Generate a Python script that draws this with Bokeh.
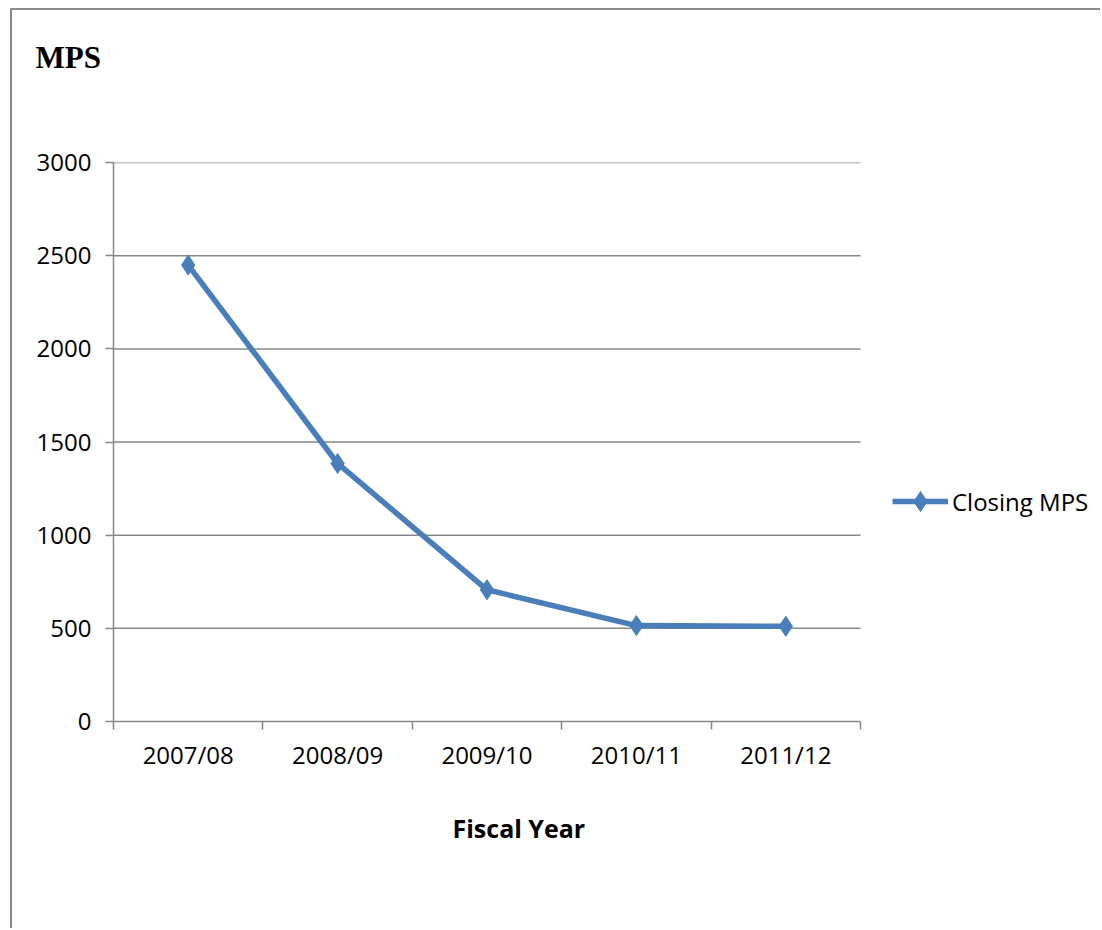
from bokeh.plotting import figure
from bokeh.models import (Range1d, FixedTicker, Legend, LegendItem, Title,
                          ColumnDataSource)
from bokeh.embed import file_html
from bokeh.resources import INLINE

years = ["2007/08", "2008/09", "2009/10", "2010/11", "2011/12"]
closing_mps = [2450, 1385, 707, 515, 511]
y_ticks = [0, 500, 1000, 1500, 2000, 2500, 3000]
series_name = "Closing MPS"
title_text = "MPS"
x_title = "Fiscal Year"

BLUE = "#4a7ebb"
GRID = "#878787"
FONT = "Open Sans"

PLOT_W, PLOT_H = 1090, 920
LEFT, TOP, BOTTOM = 101, 152, 209
AREA_W = 747  # pixel width of the category area

xs = [i + 0.5 for i in range(len(years))]
src = ColumnDataSource(dict(x=xs, y=closing_mps, year=years))

n = len(years)
x_end = n * (PLOT_W - LEFT) / AREA_W

p = figure(width=PLOT_W, height=PLOT_H, output_backend="svg", toolbar_location=None,
           x_range=Range1d(0, x_end), y_range=Range1d(0, 3000.5),
           min_border_left=LEFT, min_border_right=0, min_border_top=TOP,
           min_border_bottom=BOTTOM, title=None)
p.styles = {"margin-left": "10px", "margin-top": "8px",
            "border-left": "2px solid #8c8c8c", "border-top": "2px solid #8c8c8c"}
p.outline_line_color = None
p.background_fill_color = "white"
p.border_fill_color = "white"

# horizontal gridlines limited to the category area
grid_y = [t for t in y_ticks if t > 0]
p.segment(x0=[0] * len(grid_y), x1=[n] * len(grid_y), y0=grid_y, y1=grid_y,
          line_color=GRID, line_width=1.5)
p.xgrid.grid_line_color = None
p.ygrid.grid_line_color = None

# x axis: labels at category centres, tick marks at boundaries
xa = p.xaxis[0]
xa.bounds = (0, n)
xa.ticker = FixedTicker(ticks=xs, minor_ticks=list(range(n + 1)))
xa.major_label_overrides = {x: y for x, y in zip(xs, years)}
xa.major_tick_out = 0
xa.major_tick_in = 0
xa.minor_tick_out = 8
xa.minor_tick_in = 0
xa.minor_tick_line_color = GRID
xa.minor_tick_line_width = 1.5
xa.axis_line_color = GRID
xa.axis_line_width = 1.5
xa.major_label_text_font = FONT
xa.major_label_text_font_size = "24px"
xa.major_label_text_color = "black"
xa.major_label_standoff = 8

ya = p.yaxis[0]
ya.ticker = FixedTicker(ticks=y_ticks, minor_ticks=[])
ya.major_tick_out = 8
ya.major_tick_in = 0
ya.major_tick_line_color = GRID
ya.major_tick_line_width = 1.5
ya.axis_line_color = GRID
ya.axis_line_width = 1.5
ya.major_label_text_font = FONT
ya.major_label_text_font_size = "24px"
ya.major_label_text_color = "black"
ya.major_label_standoff = 14

line = p.line("x", "y", source=src, line_color=BLUE, line_width=5.5)
marks = p.scatter("x", "y", source=src, marker="diamond", size=20,
                  fill_color=BLUE, line_color=BLUE)

legend = Legend(items=[LegendItem(label=series_name, renderers=[line, marks])],
                location=(779, 195), padding=0, margin=0, spacing=0,
                glyph_width=56, glyph_height=50, label_standoff=4,
                border_line_color=None, background_fill_alpha=0,
                label_text_font=FONT, label_text_font_size="24px",
                label_text_color="black")
p.add_layout(legend, "center")

# spacer (closest to the frame), then the chart title above it
p.add_layout(Title(text=" ", standoff=80, text_font_size="1px"), "above")
p.add_layout(Title(text=title_text, align="left", offset=-78, standoff=10,
                   text_font="Liberation Serif", text_font_style="bold",
                   text_font_size="31px", text_color="black"), "above")

p.add_layout(Title(text=x_title, align="left", offset=339, standoff=70,
                   text_font=FONT, text_font_style="bold",
                   text_font_size="25px", text_color="black"), "below")

open("out.html", "w").write(file_html(p, INLINE))
